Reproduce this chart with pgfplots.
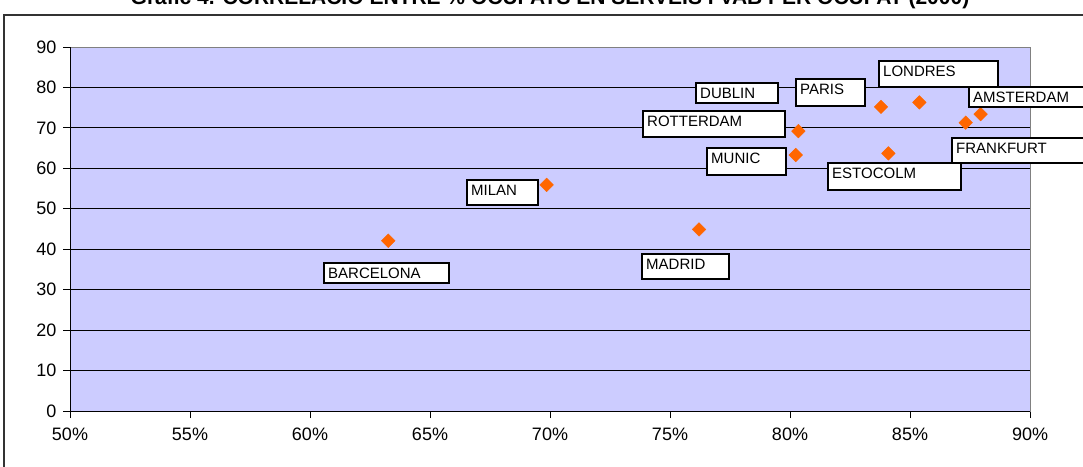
\documentclass[border=0pt]{standalone}
\usepackage{fontspec}
\setmainfont{Liberation Sans}
\usepackage{pgfplots}
\pgfplotsset{compat=1.18}
\definecolor{lav}{HTML}{CCCCFF}
\definecolor{orng}{HTML}{FF6600}
\newcommand{\lblfont}{\fontsize{15}{15}\selectfont}
\newcommand{\lab}[5]{%
  \draw[fill=white, line width=1.6pt, draw=black] (#1,#2) rectangle (#3,#4);
  \node[anchor=north west, inner sep=0pt, font=\lblfont] at ({#1+4},{#2-5}) {#5};
}
\begin{document}
\begin{tikzpicture}[x=1pt,y=1pt]
\useasboundingbox (0,0) rectangle (1083,466);
% outer frame
\draw[line width=1.5pt, draw=black!80] (4,-10) -- (4,451) -- (1095,451);
% title (cut at the top, as in the reference)
\node[anchor=base, inner sep=0pt, font=\bfseries\fontsize{21}{21}\selectfont] at (550,461)
  {Gràfic 4. CORRELACIÓ ENTRE \% OCUPATS EN SERVEIS I VAB PER OCUPAT (2000)};
\begin{axis}[
  at={(70pt,55pt)}, anchor=south west,
  width=960pt, height=364pt, scale only axis,
  xmin=50, xmax=90, ymin=0, ymax=90,
  xtick={50,55,...,90},
  xticklabels={50\%,55\%,60\%,65\%,70\%,75\%,80\%,85\%,90\%},
  ytick={0,10,...,90},
  tick align=outside, major tick length=7pt,
  tick style={black, line width=0.8pt},
  xtick pos=bottom, ytick pos=left,
  /pgf/number format/assume math mode=true,
  tick label style={font=\fontsize{18}{18}\selectfont},
  xticklabel style={yshift=-6pt},
  yticklabel style={xshift=-3pt},
  axis background/.style={fill=lav},
  axis line style={draw=gray, line width=1pt},
  ymajorgrids, major grid style={black, line width=0.8pt},
  clip=false,
]
\addplot[only marks, mark=square*, mark size=4.8pt,
  mark options={rotate=45, fill=orng, draw=orng}] coordinates {
  (63.26,42.1) (69.86,55.9) (76.21,44.9) (80.35,69.2) (80.24,63.3)
  (83.79,75.2) (85.39,76.3) (84.10,63.7) (87.32,71.3) (87.94,73.4)
};
\draw[black, line width=1pt] (rel axis cs:0,1) -- (rel axis cs:0,0) -- (rel axis cs:1,0);
\end{axis}
% data labels
\lab{696}{383}{778}{363}{DUBLIN}
\lab{796}{387}{865}{360}{PARIS}
\lab{879}{405}{998}{379}{LONDRES}
\lab{969}{379}{1095}{359}{AMSTERDAM}
\lab{643}{355}{785}{329}{ROTTERDAM}
\lab{707}{318}{786}{291}{MUNIC}
\lab{952}{328}{1095}{303}{FRANKFURT}
\lab{828}{303}{961}{276}{ESTOCOLM}
\lab{467}{286}{538}{261}{MILAN}
\lab{324}{203}{449}{183}{BARCELONA}
\lab{642}{212}{729}{187}{MADRID}
\end{tikzpicture}
\end{document}
